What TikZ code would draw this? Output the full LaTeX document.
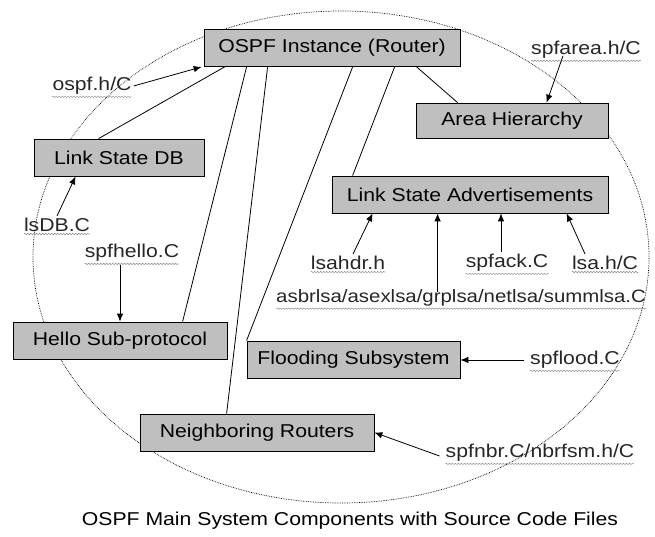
\documentclass[tikz,border=0pt]{standalone}
\usepackage{fontspec}
\setmainfont[FakeStretch=1.14]{Liberation Sans}
\usetikzlibrary{arrows.meta,decorations.pathmorphing}
\tikzset{
    every node/.style={font=\fontsize{18.6}{21}\selectfont, inner sep=0pt}
}
\tikzset{
    part/.style={draw, fill=black!25, line width=.8pt, minimum height=37pt}
}
\tikzset{
    src/.style={text=black!85},
    link/.style={line width=.8pt},
    feed/.style={line width=.8pt, -{Latex[length=8pt,width=6.5pt]}},
    squiggle/.style={black!45, line width=.5pt, decorate,
        decoration={snake, amplitude=.7pt, segment length=3pt}}
}

\begin{document}
\begin{tikzpicture}[x=1pt,y=-1pt]
  \useasboundingbox (0,0) rectangle (655,537);
  \draw [densely dotted, line width=.7pt] (341,257) ellipse [x radius=308pt, y radius=246pt];
  % components
  \node [part, minimum width=256pt] (ospf) at (332,48) {OSPF Instance (Router)};
  \node [part, minimum width=170pt] (lsdb) at (119,157.5) {Link State DB};
  \node [part, minimum width=192pt, minimum height=35pt] (area) at (512,120.5) {Area Hierarchy};
  \node [part, minimum width=276pt] (lsa) at (470,194.5) {Link State Advertisements};
  \node [part, minimum width=214pt] (hello) at (120,340.5) {Hello Sub-protocol};
  \node [part, minimum width=213pt] (flood) at (353.5,359.5) {Flooding Subsystem};
  \node [part, minimum width=234pt] (nbr) at (257,432.5) {Neighboring Routers};
  % source files
  \node [src] (ospfc) at (92,86) {ospf.h/C};
  \node [src] (lsdbc) at (57,225) {lsDB.C};
  \node [src] (helloc) at (132,253) {spfhello.C};
  \node [src] (areac) at (586,50) {spfarea.h/C};
  \node [src] (lsahdr) at (348,263) {lsahdr.h};
  \node [src] (spfack) at (507,263) {spfack.C};
  \node [src] (lsah) at (605,263) {lsa.h/C};
  \node [src, anchor=west, font=\fontsize{17.9}{21}\selectfont] (lsaall) at (276,298) {asbrlsa/asexlsa/grplsa/netlsa/summlsa.C};
  \node [src] (floodc) at (575,360) {spflood.C};
  \node [src] (nbrc) at (540,453) {spfnbr.C/nbrfsm.h/C};
  \foreach \f in {ospfc,lsdbc,helloc,areac,lsahdr,spfack,lsah,lsaall,floodc,nbrc}
    \draw [squiggle] ([yshift=-2pt]\f.south west) -- ([yshift=-2pt]\f.south east);
  % links from the instance
  \draw [link] ([xshift=21pt]ospf.south west) -- ([xshift=65pt]lsdb.north west);
  \draw [link] ([xshift=43pt]ospf.south west) -- ([xshift=170pt]hello.north west);
  \draw [link] ([xshift=64pt]ospf.south west) -- ([xshift=87pt]nbr.north west);
  \draw [link] ([xshift=149pt]ospf.south west) -- (flood.north west);
  \draw [link] ([xshift=191pt]ospf.south west) -- ([xshift=21pt]lsa.north west);
  \draw [link] ([xshift=213pt]ospf.south west) -- ([xshift=42pt]area.north west);
  % file arrows
  \draw [feed] ([xshift=2pt]ospfc.east) -- ([xshift=-2pt]ospf.south west);
  \draw [feed] ([yshift=2pt]lsdbc.north) -- ([xshift=42pt]lsdb.south west);
  \draw [feed] (helloc.south -| hello.north) ++(0,3) -- (hello.north);
  \draw [feed] ([xshift=-23pt,yshift=3pt]areac.south) -- ([xshift=131pt]area.north west);
  \draw [feed] ([xshift=5pt,yshift=2pt]lsahdr.north) -- ([xshift=41pt]lsa.south west);
  \draw [feed] ([xshift=106pt,yshift=-3pt]lsa.south west |- lsaall.north) -- ([xshift=106pt]lsa.south west);
  \draw [feed] ([xshift=-6pt,yshift=2pt]spfack.north) -- ([xshift=-6pt]spfack.north |- lsa.south);
  \draw [feed] ([xshift=-20pt,yshift=2pt]lsah.north) -- ([xshift=235pt]lsa.south west);
  \draw [feed] ([xshift=-6pt]floodc.west) -- (floodc.west -| flood.east);
  \draw [feed] ([xshift=-6pt,yshift=-3pt]nbrc.west) -- (nbr.east);
  \node (caption) at (350,521) {OSPF Main System Components with Source Code Files};
\end{tikzpicture}
\end{document}
